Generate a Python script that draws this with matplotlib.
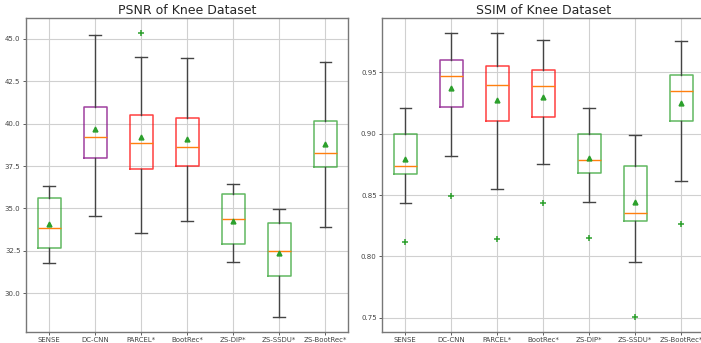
import matplotlib
matplotlib.use("Agg")
import matplotlib.pyplot as plt

methods = ["SENSE", "DC-CNN", "PARCEL*", "BootRec*", "ZS-DIP*", "ZS-SSDU*", "ZS-BootRec*"]
box_colors = ["tab:green", "purple", "red", "red", "tab:green", "tab:green", "tab:green"]

# PSNR stats
psnr_whislo = [31.76, 34.53, 33.58, 34.25, 31.87, 28.57, 33.92]
psnr_q1 = [32.64, 37.95, 37.30, 37.53, 32.88, 31.01, 37.42]
psnr_med = [33.84, 39.24, 38.89, 38.61, 34.35, 32.52, 38.30]
psnr_mean = [34.07, 39.66, 39.19, 39.07, 34.25, 32.38, 38.79]
psnr_q3 = [35.63, 40.99, 40.50, 40.36, 35.86, 34.12, 40.19]
psnr_whishi = [36.31, 45.26, 43.94, 43.86, 36.45, 34.94, 43.64]
psnr_fliers = [[], [], [45.38], [], [], [], []]

# SSIM stats
ssim_whislo = [0.8435, 0.882, 0.8551, 0.875, 0.8441, 0.7953, 0.8614]
ssim_q1 = [0.8668, 0.9218, 0.910, 0.9134, 0.8681, 0.8286, 0.910]
ssim_med = [0.8736, 0.9467, 0.9397, 0.9384, 0.8782, 0.8352, 0.9346]
ssim_mean = [0.879, 0.9372, 0.9275, 0.9299, 0.880, 0.8441, 0.925]
ssim_q3 = [0.900, 0.9598, 0.9551, 0.9514, 0.900, 0.8733, 0.9481]
ssim_whishi = [0.9207, 0.9823, 0.9823, 0.9766, 0.921, 0.8985, 0.9758]
ssim_fliers = [[0.8115], [0.8492], [0.8145], [0.8433], [0.8148], [0.7503], [0.8264]]


def make_stats(wlo, q1, med, mean, q3, whi, fl):
    stats = []
    for i in range(len(methods)):
        stats.append(dict(label=methods[i], whislo=wlo[i], q1=q1[i], med=med[i],
                          mean=mean[i], q3=q3[i], whishi=whi[i], fliers=fl[i]))
    return stats


def draw(ax, stats, title):
    ax.set_axisbelow(True)
    ax.grid(True, color="#d0d0d0", linewidth=0.8)
    bp = ax.bxp(stats, showmeans=True, patch_artist=False,
                medianprops=dict(color="tab:orange", linewidth=1),
                meanprops=dict(marker="^", markerfacecolor="tab:green",
                               markeredgecolor="tab:green", markersize=3.5),
                flierprops=dict(marker="+", color="tab:green", markeredgecolor="tab:green",
                                markersize=4.5, markeredgewidth=1.1),
                whiskerprops=dict(color="#444444", linewidth=1),
                capprops=dict(color="#444444", linewidth=1))
    for box, c in zip(bp["boxes"], box_colors):
        box.set_color(c)
        box.set_alpha(0.75)
        box.set_linewidth(1.1)
    for fl in bp["fliers"]:
        fl.set_markeredgecolor("#2ca02c")
    ax.set_title(title, fontsize=9, color="#262626", pad=3)
    ax.tick_params(labelsize=5, colors="#444444", length=2.5, width=0.6, pad=1.5)
    for s in ax.spines.values():
        s.set_color("#777777")
        s.set_linewidth(1)


fig = plt.figure(figsize=(7.01, 3.43), dpi=100)
ax1 = fig.add_axes([26 / 701, 1 - 331.7 / 343, 322.3 / 701, 313.4 / 343])
ax2 = fig.add_axes([382.3 / 701, 1 - 331.7 / 343, 321.7 / 701, 313.4 / 343])

draw(ax1, make_stats(psnr_whislo, psnr_q1, psnr_med, psnr_mean, psnr_q3, psnr_whishi, psnr_fliers),
     "PSNR of Knee Dataset")
draw(ax2, make_stats(ssim_whislo, ssim_q1, ssim_med, ssim_mean, ssim_q3, ssim_whishi, ssim_fliers),
     "SSIM of Knee Dataset")
ax1.set_yticks([30.0, 32.5, 35.0, 37.5, 40.0, 42.5, 45.0])
ax2.set_yticks([0.75, 0.80, 0.85, 0.90, 0.95])
ax2.set_yticklabels(["0.75", "0.80", "0.85", "0.90", "0.95"])

fig.savefig("out.png", dpi=100)
